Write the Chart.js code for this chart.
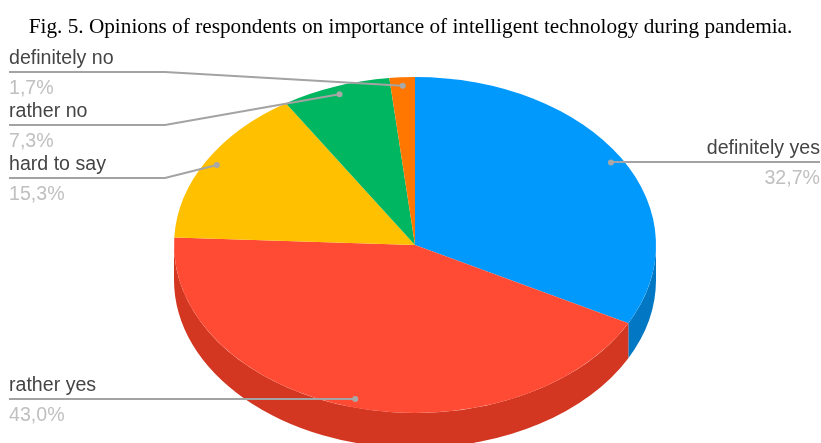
<!DOCTYPE html>
<html>
<head>
<meta charset="utf-8">
<title>Fig. 5</title>
<script src="https://cdn.jsdelivr.net/npm/chart.js@4"></script>
<style>
  html, body { margin: 0; padding: 0; background: #fff; }
  #wrap { width: 821px; height: 443px; overflow: hidden; }
</style>
</head>
<body>
<div id="wrap"><canvas id="myChart" width="821" height="443"></canvas></div>
<script>
const titleText = 'Fig. 5. Opinions of respondents on importance of intelligent technology during pandemia.';
const categories = ['definitely yes', 'rather yes', 'hard to say', 'rather no', 'definitely no'];
const shares = [32.7, 43.0, 15.3, 7.3, 1.7];
const shareLabels = ['32,7%', '43,0%', '15,3%', '7,3%', '1,7%'];
const topColors = ['#0299fd', '#ff4b33', '#ffc000', '#00b661', '#ff7600'];
const wallColors = ['#0277c3', '#d33722', '#c99700', '#008f4c', '#c95d00'];

// where the labels sit: y of the leader line, and which side of the page
const lineY = [162, 399, 178, 125, 72];
const sides = ['right', 'left', 'left', 'left', 'left'];

const pieX = 415;      // page centre of the tilted pie
const radiusY = 168;
const radiusX = 241;
const depth = 35;
const dotAt = 0.95;    // leader dot, as a share of the radius
const elbowX = 165;

function project(arc, angle, r) {
  return {
    x: pieX + Math.cos(angle) * r * radiusX / radiusY,
    y: arc.y + Math.sin(angle) * r
  };
}

const tiltPlugin = {
  id: 'tilt',
  beforeDatasetsDraw(chart) {
    const ctx = chart.ctx;
    const arcs = chart.getDatasetMeta(0).data;
    const cy = arcs[0].y;
    // side wall, only the front half shows
    arcs.forEach((arc, i) => {
      const a0 = Math.max(arc.startAngle, 0);
      const a1 = Math.min(arc.endAngle, Math.PI);
      if (a1 <= a0) return;
      ctx.beginPath();
      ctx.ellipse(pieX, cy, radiusX, radiusY, 0, a0, a1);
      ctx.ellipse(pieX, cy + depth, radiusX, radiusY, 0, a1, a0, true);
      ctx.closePath();
      ctx.fillStyle = wallColors[i];
      ctx.fill();
    });
    ctx.save();
    ctx.translate(pieX, 0);
    ctx.scale(radiusX / radiusY, 1);
    ctx.translate(-arcs[0].x, 0);
  },
  afterDatasetsDraw(chart) {
    const ctx = chart.ctx;
    ctx.restore();
    const arcs = chart.getDatasetMeta(0).data;
    arcs.forEach((arc, i) => {
      const mid = (arc.startAngle + arc.endAngle) / 2;
      const dot = project(arc, mid, arc.outerRadius * dotAt);
      const left = sides[i] === 'left';
      const edge = left ? 9 : 820;
      ctx.strokeStyle = '#a3a3a3';
      ctx.lineWidth = 2;
      ctx.beginPath();
      ctx.moveTo(edge, lineY[i]);
      if (left) ctx.lineTo(elbowX, lineY[i]);
      ctx.lineTo(dot.x, left ? dot.y : lineY[i]);
      ctx.stroke();
      ctx.fillStyle = '#a8a8a8';
      ctx.beginPath();
      ctx.arc(dot.x, dot.y, 3, 0, Math.PI * 2);
      ctx.fill();

      ctx.font = '19.6px "Liberation Sans", Arial, sans-serif';
      ctx.textAlign = left ? 'left' : 'right';
      ctx.textBaseline = 'alphabetic';
      ctx.fillStyle = '#444444';
      ctx.fillText(categories[i], edge, lineY[i] - 8);
      ctx.fillStyle = '#c0c0c0';
      ctx.fillText(shareLabels[i], edge, lineY[i] + 22);
    });
  }
};

new Chart(document.getElementById('myChart'), {
  type: 'pie',
  data: {
    labels: categories,
    datasets: [{
      data: shares,
      backgroundColor: topColors,
      borderWidth: 0,
      radius: radiusY
    }]
  },
  options: {
    responsive: false,
    animation: false,
    events: [],
    layout: { padding: 0 },
    plugins: {
      legend: { display: false },
      tooltip: { enabled: false },
      title: {
        display: true,
        text: titleText,
        color: '#000',
        font: { family: '"Liberation Serif", "Times New Roman", serif', size: 21.25, weight: 'normal', lineHeight: 1.2 },
        padding: { top: 15, bottom: 6.5 }
      }
    }
  },
  plugins: [tiltPlugin]
});
</script>
</body>
</html>
